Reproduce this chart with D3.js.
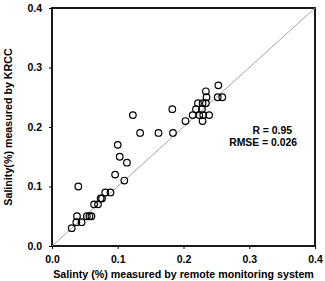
<!DOCTYPE html>
<html>
<head>
<meta charset="utf-8">
<script src="https://cdn.jsdelivr.net/npm/d3@7"></script>
<style>
  body { margin: 0; background: #fff; }
  svg { display: block; font-family: Arial, "Liberation Sans", sans-serif; }
</style>
</head>
<body>
<div id="chart"></div>
<script>
// Salinity measured by remote monitoring system (x) vs KRCC (y)
const remoteValues = [
  0.030, 0.037, 0.045, 0.038, 0.053, 0.057, 0.060, 0.040,
  0.064, 0.070, 0.074, 0.076, 0.081, 0.089, 0.096, 0.110,
  0.103, 0.114, 0.100, 0.123, 0.134, 0.162, 0.184, 0.183,
  0.203, 0.229, 0.214, 0.224, 0.230, 0.239, 0.219, 0.228,
  0.222, 0.229, 0.234, 0.235, 0.234, 0.252, 0.259, 0.253
];
const krccValues = [
  0.03, 0.04, 0.04, 0.05, 0.05, 0.05, 0.05, 0.10,
  0.07, 0.07, 0.08, 0.08, 0.09, 0.09, 0.12, 0.11,
  0.15, 0.14, 0.17, 0.22, 0.19, 0.19, 0.19, 0.23,
  0.21, 0.21, 0.22, 0.22, 0.22, 0.22, 0.23, 0.23,
  0.24, 0.24, 0.24, 0.25, 0.26, 0.25, 0.25, 0.27
];
const tickValues = [0.0, 0.1, 0.2, 0.3, 0.4];
const statLines = ["R = 0.95", "RMSE = 0.026"];

const width = 325, height = 281;
const margin = { top: 8, right: 10, bottom: 35, left: 52 };

const svg = d3.select("#chart").append("svg")
  .attr("width", width)
  .attr("height", height);

const x = d3.scaleLinear().domain([0, 0.4]).range([margin.left, width - margin.right]);
const y = d3.scaleLinear().domain([0, 0.4]).range([height - margin.bottom, margin.top]);

// ejes
const xAxis = svg.append("g")
  .attr("transform", `translate(0,${height - margin.bottom})`)
  .call(d3.axisBottom(x).tickValues(tickValues).tickFormat(d3.format(".1f")).tickSize(3).tickPadding(7));
const yAxis = svg.append("g")
  .attr("transform", `translate(${margin.left},0)`)
  .call(d3.axisLeft(y).tickValues(tickValues).tickFormat(d3.format(".1f")).tickSize(3).tickPadding(7));

[xAxis, yAxis].forEach(g => {
  g.select(".domain").remove();
  g.selectAll("line").attr("stroke", "#000");
  g.selectAll("text")
    .style("font-size", "10.5px")
    .style("font-weight", "bold")
    .attr("fill", "#000");
});

// marco
svg.append("rect")
  .attr("x", x(0))
  .attr("y", y(0.4))
  .attr("width", x(0.4) - x(0))
  .attr("height", y(0) - y(0.4))
  .attr("fill", "none")
  .attr("stroke", "#000")
  .attr("stroke-width", 1.8);

// linea 1:1
svg.append("line")
  .attr("x1", x(0)).attr("y1", y(0))
  .attr("x2", x(0.4)).attr("y2", y(0.4))
  .attr("stroke", "#999")
  .attr("stroke-width", 0.9);

// puntos
svg.selectAll(".pt")
  .data(remoteValues.map((v, i) => [v, krccValues[i]]))
  .enter()
  .append("circle")
  .attr("class", "pt")
  .attr("cx", d => x(d[0]))
  .attr("cy", d => y(d[1]))
  .attr("r", 3.3)
  .attr("fill", "none")
  .attr("stroke", "#000")
  .attr("stroke-width", 1.2);

// estadisticas
svg.selectAll(".stat")
  .data(statLines)
  .enter()
  .append("text")
  .attr("class", "stat")
  .attr("x", (d, i) => 292 + i * 5)
  .attr("y", (d, i) => 134 + i * 12)
  .attr("text-anchor", "end")
  .style("font-size", "10.4px")
  .style("font-weight", "bold")
  .text(d => d);

// titulos
svg.append("text")
  .attr("x", (x(0) + x(0.4)) / 2)
  .attr("y", 278)
  .attr("text-anchor", "middle")
  .style("font-size", "10.7px")
  .style("font-weight", "bold")
  .text("Salinty (%) measured by remote monitoring system");

svg.append("text")
  .attr("transform", `translate(12,${(y(0) + y(0.4)) / 2}) rotate(-90)`)
  .attr("text-anchor", "middle")
  .style("font-size", "10.7px")
  .style("font-weight", "bold")
  .text("Salinity(%) measured by KRCC");
</script>
</body>
</html>
